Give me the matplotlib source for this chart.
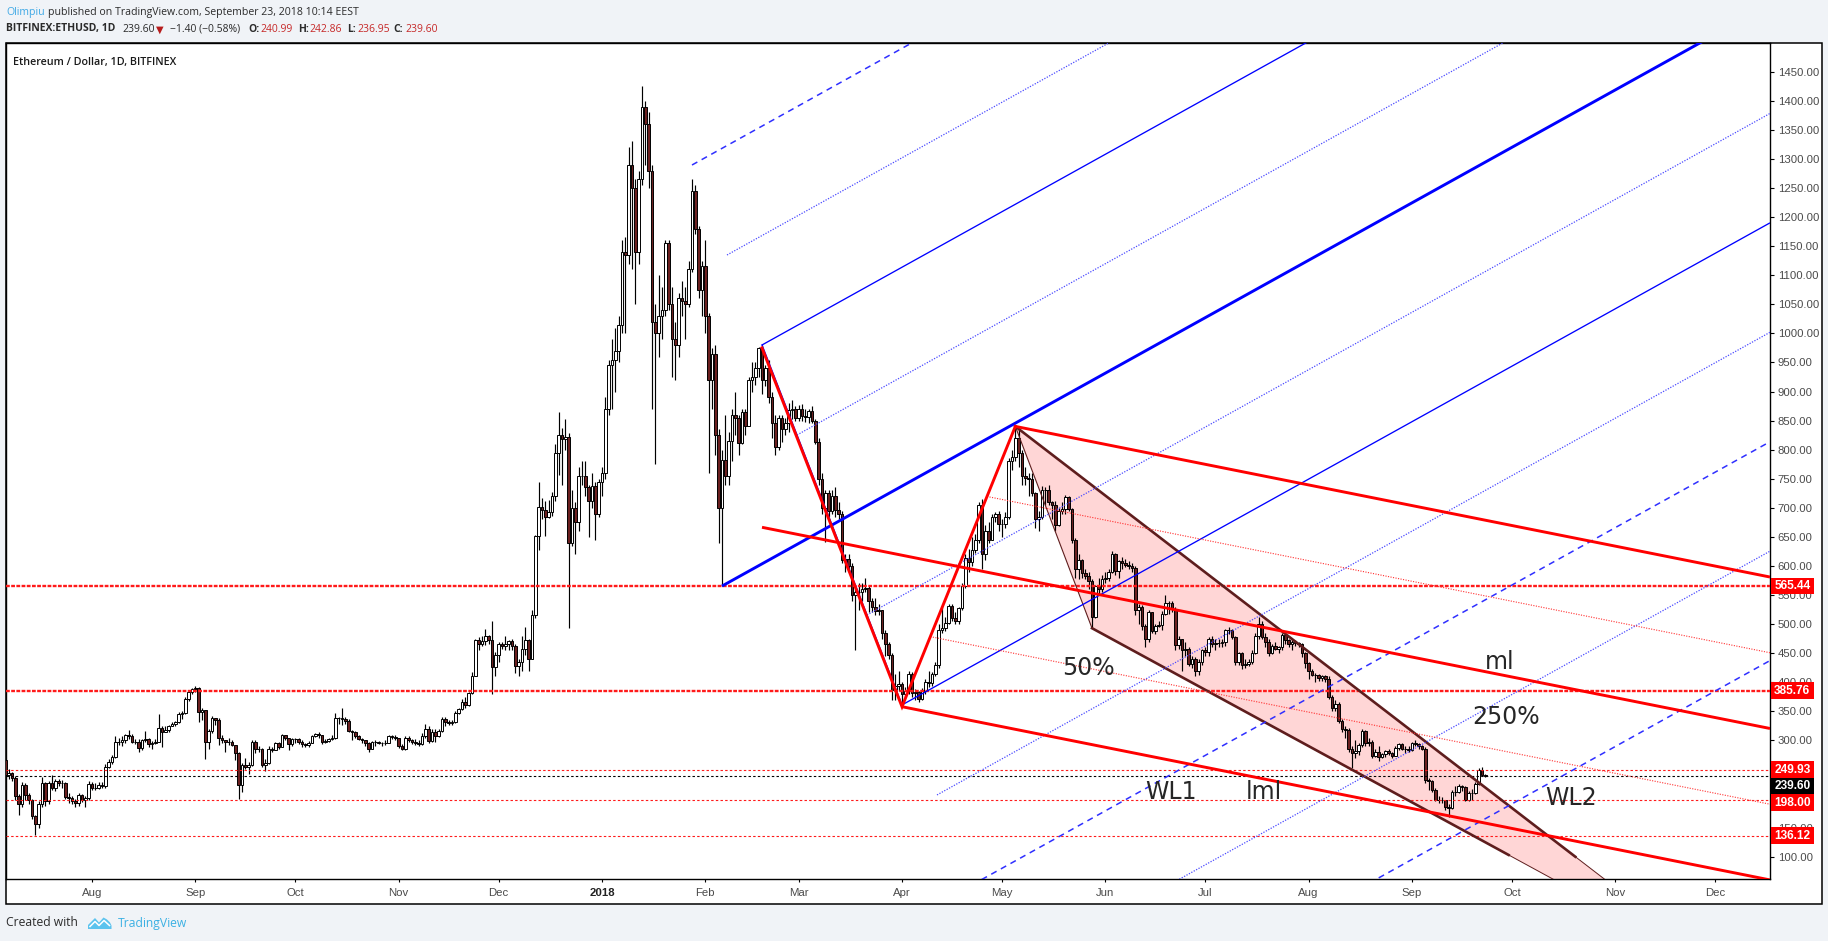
import numpy as np
import pandas as pd
import matplotlib
matplotlib.use("Agg")
import matplotlib.pyplot as plt
import matplotlib.dates as mdates
from matplotlib.patches import Rectangle, Polygon

# ------------------------------------------------------------------ data
first_date = "2017-07-06"
last_date = "2018-09-23"
first_open = 266.0
last_open = 240.99

jul17_close = [240, 244, 236, 205, 190, 224, 207, 198, 170, 156, 190, 226, 195, 226, 218, 230, 227, 226, 203, 201, 196, 192, 206, 198, 201, 225]
jul17_high = [268, 250, 246, 238, 208, 228, 226, 209, 199, 172, 196, 237, 229, 230, 240, 234, 234, 232, 229, 210, 204, 200, 210, 208, 204, 230]
jul17_low = [236, 234, 230, 198, 172, 186, 198, 190, 165, 137, 150, 186, 188, 190, 214, 213, 222, 218, 200, 193, 190, 186, 188, 194, 186, 198]

aug17_close = [219, 218, 224, 221, 255, 263, 272, 297, 297, 300, 309, 307, 297, 297, 287, 300, 302, 293, 296, 298, 322, 314, 318, 325, 328, 331, 345, 347, 371, 383, 388]
aug17_high = [228, 227, 228, 228, 260, 268, 275, 308, 304, 307, 311, 318, 311, 302, 302, 302, 316, 304, 299, 302, 345, 325, 325, 327, 331, 333, 349, 350, 375, 387, 391]
aug17_low = [215, 214, 217, 218, 219, 253, 260, 270, 292, 291, 296, 303, 295, 293, 280, 283, 297, 288, 285, 294, 297, 289, 314, 314, 324, 325, 330, 337, 345, 368, 380]

sep17_close = [391, 349, 352, 298, 316, 338, 335, 304, 300, 297, 298, 292, 278, 223, 258, 255, 257, 298, 286, 286, 258, 262, 286, 284, 296, 289, 309, 304, 294, 302]
sep17_high = [394, 392, 356, 353, 320, 342, 338, 338, 310, 300, 304, 300, 292, 280, 262, 270, 263, 300, 300, 291, 287, 268, 290, 289, 298, 298, 311, 310, 305, 305]
sep17_low = [384, 332, 335, 268, 285, 312, 327, 292, 296, 280, 292, 290, 266, 199, 212, 250, 243, 256, 279, 280, 254, 248, 260, 280, 283, 286, 288, 300, 283, 290]

oct17_close = [303, 298, 293, 292, 296, 308, 311, 309, 297, 299, 303, 305, 339, 338, 336, 334, 317, 314, 308, 303, 300, 295, 286, 297, 297, 296, 296, 295, 307, 306, 304]
oct17_high = [305, 305, 300, 296, 299, 310, 313, 314, 310, 303, 305, 310, 348, 341, 356, 341, 336, 318, 316, 310, 305, 300, 297, 299, 300, 299, 298, 300, 310, 310, 309]
oct17_low = [296, 294, 288, 288, 289, 295, 306, 305, 293, 295, 297, 300, 303, 328, 326, 328, 314, 300, 305, 300, 295, 290, 280, 285, 290, 293, 290, 292, 295, 303, 300]

nov17_close = [290, 286, 305, 300, 297, 296, 294, 308, 320, 299, 315, 308, 316, 336, 332, 330, 332, 347, 354, 366, 361, 381, 411, 472, 466, 471, 480, 472, 427, 447]
nov17_high = [305, 294, 307, 307, 303, 302, 300, 312, 328, 324, 319, 320, 320, 340, 340, 335, 335, 350, 356, 371, 375, 384, 418, 474, 478, 480, 491, 482, 505, 452]
nov17_low = [287, 283, 284, 297, 294, 292, 290, 292, 305, 295, 298, 298, 306, 315, 325, 326, 327, 330, 345, 353, 355, 360, 380, 410, 455, 462, 464, 465, 380, 410]

dec17_close = [466, 463, 466, 471, 462, 428, 434, 457, 473, 440, 515, 651, 702, 696, 685, 693, 720, 794, 826, 819, 821, 640, 700, 675, 755, 755, 735, 712, 738, 690, 745]
dec17_high = [470, 470, 480, 473, 474, 465, 440, 480, 495, 475, 525, 654, 744, 717, 712, 714, 727, 810, 864, 837, 852, 829, 730, 710, 770, 780, 780, 740, 760, 745, 750]
dec17_low = [435, 458, 455, 456, 455, 416, 410, 420, 447, 420, 440, 510, 627, 680, 651, 682, 686, 712, 756, 740, 800, 494, 635, 620, 660, 740, 720, 650, 700, 645, 685]

jan18_close = [760, 870, 945, 955, 970, 1015, 1140, 1135, 1290, 1250, 1140, 1265, 1390, 1360, 1280, 1020, 1000, 1030, 1040, 1155, 1050, 990, 980, 1060, 1055, 1050, 1110, 1245, 1180, 1075, 1115]
jan18_high = [770, 890, 955, 990, 1010, 1030, 1160, 1165, 1320, 1330, 1265, 1280, 1425, 1400, 1380, 1290, 1050, 1100, 1080, 1160, 1160, 1080, 1020, 1070, 1090, 1080, 1125, 1265, 1255, 1185, 1125]
jan18_low = [720, 750, 860, 870, 900, 950, 1000, 1000, 1120, 1110, 1050, 1120, 1255, 1290, 1250, 870, 775, 960, 990, 1030, 1040, 925, 920, 960, 1030, 990, 1045, 1105, 1170, 1060, 1030]

feb18_close = [1030, 920, 965, 825, 700, 782, 755, 815, 860, 855, 812, 865, 840, 920, 925, 940, 975, 920, 940, 890, 845, 805, 855, 835, 845, 868, 870, 855]
feb18_high = [1160, 1035, 975, 980, 835, 800, 860, 830, 870, 900, 860, 870, 870, 925, 950, 950, 976, 980, 945, 955, 900, 860, 860, 860, 855, 880, 885, 875]
feb18_low = [1000, 760, 870, 790, 640, 565, 740, 740, 780, 825, 790, 810, 825, 840, 900, 912, 925, 895, 910, 880, 820, 790, 800, 813, 825, 830, 852, 850]

mar18_close = [870, 858, 857, 866, 850, 814, 750, 700, 725, 695, 720, 697, 690, 610, 612, 600, 550, 555, 555, 560, 562, 540, 530, 522, 525, 485, 465, 447, 387, 393, 397]
mar18_high = [876, 878, 870, 870, 875, 852, 820, 760, 730, 730, 730, 735, 710, 695, 620, 620, 605, 560, 570, 570, 580, 565, 545, 545, 535, 525, 490, 470, 450, 415, 420]
mar18_low = [850, 850, 848, 845, 845, 810, 740, 690, 642, 685, 690, 685, 680, 605, 590, 590, 540, 456, 525, 540, 555, 520, 520, 515, 515, 475, 445, 440, 370, 370, 385]

apr18_close = [380, 385, 415, 381, 383, 371, 385, 400, 398, 415, 430, 490, 493, 502, 532, 510, 505, 527, 565, 614, 607, 628, 645, 705, 620, 660, 645, 685, 690, 672]
apr18_high = [400, 392, 420, 418, 388, 385, 390, 405, 420, 418, 435, 500, 530, 512, 535, 535, 520, 530, 570, 620, 630, 650, 655, 710, 715, 670, 675, 690, 693, 695]
apr18_low = [361, 375, 380, 375, 370, 366, 370, 380, 392, 393, 410, 425, 485, 488, 500, 505, 500, 500, 525, 562, 590, 600, 622, 640, 595, 610, 640, 645, 675, 660]

may18_close = [672, 685, 780, 788, 820, 795, 755, 752, 750, 725, 680, 685, 730, 730, 710, 705, 670, 695, 698, 718, 698, 645, 595, 610, 588, 583, 575, 513, 565, 560, 578]
may18_high = [680, 692, 785, 800, 838, 838, 800, 770, 760, 760, 728, 695, 738, 735, 740, 712, 712, 700, 710, 722, 720, 700, 648, 620, 612, 595, 590, 578, 568, 580, 585]
may18_low = [650, 665, 680, 765, 780, 770, 740, 740, 720, 720, 665, 660, 680, 705, 705, 680, 660, 668, 690, 690, 695, 640, 580, 578, 580, 578, 560, 493, 510, 550, 555]

jun18_close = [580, 590, 620, 592, 608, 605, 602, 600, 597, 525, 530, 497, 475, 520, 488, 497, 498, 518, 537, 536, 526, 464, 474, 455, 458, 431, 440, 420, 435, 455]
jun18_high = [590, 595, 625, 622, 610, 615, 612, 608, 605, 600, 535, 533, 500, 525, 520, 500, 505, 522, 550, 540, 540, 530, 480, 475, 470, 460, 445, 443, 440, 458]
jun18_low = [570, 575, 588, 585, 580, 595, 598, 595, 590, 515, 500, 490, 460, 470, 485, 483, 495, 490, 515, 518, 520, 455, 458, 420, 445, 428, 425, 410, 412, 430]

jul18_close = [452, 475, 465, 468, 467, 470, 490, 490, 478, 435, 450, 430, 432, 435, 450, 480, 500, 478, 470, 450, 462, 458, 460, 482, 472, 465, 470, 467, 465, 450, 433]
jul18_high = [460, 477, 480, 475, 475, 475, 492, 495, 492, 480, 452, 452, 440, 440, 455, 484, 513, 505, 485, 475, 465, 470, 462, 485, 485, 475, 472, 472, 470, 467, 452]
jul18_low = [445, 445, 460, 455, 460, 460, 462, 483, 474, 430, 430, 422, 425, 428, 432, 448, 475, 475, 460, 445, 448, 455, 450, 455, 465, 460, 455, 462, 460, 443, 425]

aug18_close = [420, 413, 412, 407, 410, 405, 375, 355, 363, 333, 320, 318, 286, 278, 282, 292, 316, 295, 298, 274, 280, 271, 276, 281, 279, 274, 287, 294, 286, 285, 283]
aug18_high = [435, 423, 416, 415, 412, 412, 410, 378, 370, 366, 336, 325, 322, 290, 300, 296, 320, 318, 304, 300, 285, 290, 279, 284, 285, 280, 290, 296, 296, 291, 290]
aug18_low = [405, 410, 400, 403, 402, 400, 372, 350, 350, 330, 315, 305, 280, 252, 270, 275, 288, 290, 290, 270, 272, 265, 270, 272, 275, 270, 274, 284, 283, 278, 280]

sep18_close = [295, 294, 290, 286, 232, 230, 215, 198, 197, 197, 185, 184, 211, 212, 222, 220, 198, 209, 210, 225, 249, 241, 239.60]
sep18_high = [298, 300, 295, 292, 288, 235, 232, 218, 205, 202, 198, 190, 215, 222, 225, 224, 222, 213, 216, 228, 253, 254, 242.86]
sep18_low = [282, 290, 285, 283, 226, 215, 212, 195, 192, 192, 180, 168, 182, 205, 210, 213, 196, 196, 198, 208, 224, 238, 236.95]

# horizontal levels
level_thick = [565.44, 385.76]
level_thin = [249.93, 198.00, 136.12]
last_price = 239.60

# Andrews pitchfork (blue): pivots
blue_fork_dates = ["2018-02-06", "2018-02-18", "2018-04-01"]
blue_fork_prices = [565.44, 980.0, 361.0]
blue_upper_levels = [0.5, 1.0, 1.5, 2.0]
blue_lower_levels = [0.5, 1.0, 1.5, 2.0, 2.5, 3.0]

# Schiff pitchfork (red): pivots
red_fork_dates = ["2018-02-18", "2018-04-01", "2018-05-05"]
red_fork_prices = [975.0, 358.0, 840.0]

# brown channel
chan_start_dates = ["2018-05-05", "2018-05-28"]
chan_start_prices = [840.0, 493.0]
chan_end_dates = ["2018-10-20", "2018-09-30"]
chan_end_prices = [100.0, 103.0]

# text annotations (label, date, price at baseline)
notes = [("50%", "2018-05-19", 412.0), ("ml", "2018-09-23", 423.0),
         ("250%", "2018-09-19", 328.0), ("WL1", "2018-06-13", 200.0),
         ("lml", "2018-07-13", 200.0), ("WL2", "2018-10-11", 189.0)]

month_labels = ["Aug", "Sep", "Oct", "Nov", "Dec", "2018", "Feb", "Mar", "Apr",
                "May", "Jun", "Jul", "Aug", "Sep", "Oct", "Nov", "Dec"]
price_ticks = list(range(100, 1451, 50))
hidden_price_ticks = [200, 250]   # fully covered by the price-label boxes

# ------------------------------------------------------------------ arrays
closes = np.array(jul17_close + aug17_close + sep17_close + oct17_close + nov17_close +
                  dec17_close + jan18_close + feb18_close + mar18_close + apr18_close +
                  may18_close + jun18_close + jul18_close + aug18_close + sep18_close, float)
highs = np.array(jul17_high + aug17_high + sep17_high + oct17_high + nov17_high +
                 dec17_high + jan18_high + feb18_high + mar18_high + apr18_high +
                 may18_high + jun18_high + jul18_high + aug18_high + sep18_high, float)
lows = np.array(jul17_low + aug17_low + sep17_low + oct17_low + nov17_low +
                dec17_low + jan18_low + feb18_low + mar18_low + apr18_low +
                may18_low + jun18_low + jul18_low + aug18_low + sep18_low, float)
dates = pd.date_range(first_date, last_date, freq="D")
assert len(dates) == len(closes) == len(highs) == len(lows)
opens = np.concatenate([[first_open], closes[:-1]])
opens[-1] = last_open
highs = np.maximum(highs, np.maximum(opens, closes))
lows = np.minimum(lows, np.minimum(opens, closes))
xd = mdates.date2num(dates)

def dnum(s):
    return mdates.date2num(pd.Timestamp(s))

# ------------------------------------------------------------------ layout
W, H = 1828, 941
BG = "#f0f3f7"
fig = plt.figure(figsize=(W / 100, H / 100), dpi=100, facecolor=BG)

def fx(px):
    return px / W

def fy(py):
    return 1 - py / H

BOX_L, BOX_R, BOX_T, BOX_B = 6, 1822, 43, 904
AX_R, AX_B = 1770, 879
fig.patches.append(Rectangle((fx(BOX_L), fy(BOX_B)), fx(BOX_R) - fx(BOX_L), fy(BOX_T) - fy(BOX_B),
                             transform=fig.transFigure, facecolor="white",
                             edgecolor="black", linewidth=1.1, zorder=-5))

ax = fig.add_axes([fx(BOX_L), fy(AX_B), fx(AX_R) - fx(BOX_L), fy(BOX_T) - fy(AX_B)])
ax.set_facecolor("white")
XMIN = dnum("2017-07-06") + 0.2
XMAX = dnum("2018-12-17") + 0.4
YMIN, YMAX = 61.7, 1499.3
ax.set_xlim(XMIN, XMAX)
ax.set_ylim(YMIN, YMAX)

# ------------------------------------------------------------------ candles
up = closes >= opens
bot = np.minimum(opens, closes)
hgt = np.abs(closes - opens)
ax.vlines(xd, lows, highs, color="black", linewidth=0.85, zorder=3)
ax.bar(xd[up], hgt[up], bottom=bot[up], width=0.72, color="white",
       edgecolor="black", linewidth=0.7, zorder=4)
ax.bar(xd[~up], hgt[~up], bottom=bot[~up], width=0.72, color="#6b2020",
       edgecolor="black", linewidth=0.7, zorder=4)

# ------------------------------------------------------------------ horizontal levels
for lv in level_thick:
    ax.axhline(lv, color="#ff1a1a", linewidth=1.7, linestyle=(0, (1.6, 0.6)), zorder=5)
for lv in level_thin:
    ax.axhline(lv, color="#ff1a1a", linewidth=0.8, linestyle=(0, (2.2, 2.0)), zorder=5)
ax.axhline(last_price, color="black", linewidth=0.8, linestyle=(0, (2.2, 2.0)), zorder=5)

def ray(x0, y0, slope, x1=XMAX, **kw):
    ax.plot([x0, x1], [y0, y0 + slope * (x1 - x0)], solid_capstyle="butt", **kw)

# ------------------------------------------------------------------ brown channel
cax = [dnum(d) for d in chan_start_dates]
cex = [dnum(d) for d in chan_end_dates]
su = (chan_end_prices[0] - chan_start_prices[0]) / (cex[0] - cax[0])
sl = (chan_end_prices[1] - chan_start_prices[1]) / (cex[1] - cax[1])
x_far = dnum("2018-11-20")
uf = chan_start_prices[0] + su * (x_far - cax[0])
lf = chan_start_prices[1] + sl * (x_far - cax[1])
ax.add_patch(Polygon([(cax[0], chan_start_prices[0]), (x_far, uf), (x_far, lf),
                      (cax[1], chan_start_prices[1])], closed=True,
                     facecolor="#ffd6d6", edgecolor="none", zorder=1))
BROWN = "#5e1d1d"
ax.plot([cax[0], cex[0]], [chan_start_prices[0], chan_end_prices[0]], color=BROWN, lw=1.9, zorder=6)
ax.plot([cax[1], cex[1]], [chan_start_prices[1], chan_end_prices[1]], color=BROWN, lw=1.9, zorder=6)
ax.plot([cex[0], x_far], [chan_end_prices[0], uf], color=BROWN, lw=0.7, zorder=6)
ax.plot([cex[1], x_far], [chan_end_prices[1], lf], color=BROWN, lw=0.7, zorder=6)
ax.plot([cax[0], cax[1]], chan_start_prices, color=BROWN, lw=0.8, zorder=6)

# ------------------------------------------------------------------ blue Andrews pitchfork
BLUE = "#0000ff"
bx = [dnum(d) for d in blue_fork_dates]
by = blue_fork_prices
bmx, bmy = (bx[1] + bx[2]) / 2, (by[1] + by[2]) / 2
bslope = (bmy - by[0]) / (bmx - bx[0])
ray(bx[0], by[0], bslope, color=BLUE, lw=2.1, zorder=7)
ax.plot([bx[1], bx[2]], [by[1], by[2]], color=BLUE, lw=1.0, zorder=6)

def blue_style(L):
    if L == 1.0:
        return dict(color=BLUE, lw=0.95, linestyle="-")
    if float(L).is_integer():
        return dict(color="#2f2fff", lw=1.1, linestyle=(0, (4.0, 3.2)))
    return dict(color="#4a4aff", lw=0.9, linestyle=(0, (1.0, 1.2)))

for L in blue_upper_levels:
    ray(bmx + L * (bx[1] - bmx), bmy + L * (by[1] - bmy), bslope, zorder=6, **blue_style(L))
for L in blue_lower_levels:
    ray(bmx + L * (bx[2] - bmx), bmy + L * (by[2] - bmy), bslope, zorder=6, **blue_style(L))

# ------------------------------------------------------------------ red Schiff pitchfork
RED = "#ff0000"
rx = [dnum(d) for d in red_fork_dates]
ry = red_fork_prices
rsx, rsy = rx[0], (ry[0] + ry[1]) / 2
rmx, rmy = (rx[1] + rx[2]) / 2, (ry[1] + ry[2]) / 2
rslope = (rmy - rsy) / (rmx - rsx)
ray(rsx, rsy, rslope, color=RED, lw=2.1, zorder=8)
ray(rx[2], ry[2], rslope, color=RED, lw=2.1, zorder=8)
ray(rx[1], ry[1], rslope, color=RED, lw=2.1, zorder=8)
for px_, py_ in [(rx[2], ry[2]), (rx[1], ry[1])]:
    ray(rmx + 0.5 * (px_ - rmx), rmy + 0.5 * (py_ - rmy), rslope,
        color="#ff3030", lw=0.8, linestyle=(0, (1.0, 1.3)), zorder=7)
ax.plot(rx, ry, color=RED, lw=2.1, zorder=8, solid_joinstyle="miter")

# ------------------------------------------------------------------ annotations
for s, d, p in notes:
    ax.text(dnum(d), p, s, fontsize=17, color="#262626", family="DejaVu Sans",
            ha="left", va="baseline", zorder=9)

# ------------------------------------------------------------------ axes styling
for sp in ax.spines.values():
    sp.set_color("black")
    sp.set_linewidth(1.0)
ax.yaxis.tick_right()
ax.set_yticks(price_ticks)
ax.set_yticklabels(["" if v in hidden_price_ticks else f"{v:.2f}" for v in price_ticks])
month_starts = pd.date_range("2017-08-01", "2018-12-01", freq="MS")
ax.set_xticks(mdates.date2num(month_starts))
ax.set_xticklabels(month_labels)
ax.tick_params(axis="y", direction="out", length=3.2, width=0.8, pad=2.3,
               labelsize=8.2, labelcolor="#4a4a4a", color="black")
ax.tick_params(axis="x", direction="out", length=2.5, width=0.8, pad=4.0,
               labelsize=8.2, labelcolor="#4a4a4a", color="black")
for lab in ax.get_yticklabels() + ax.get_xticklabels():
    lab.set_family("Liberation Sans")
for lab in ax.get_xticklabels():
    if lab.get_text() == "2018":
        lab.set_fontweight("bold")
        lab.set_color("#222222")

# ------------------------------------------------------------------ price labels
pax = fig.add_axes([fx(AX_R), fy(AX_B), fx(BOX_R) - fx(AX_R), fy(BOX_T) - fy(AX_B)])
pax.set_xlim(0, BOX_R - AX_R)
pax.set_ylim(YMIN, YMAX)
pax.axis("off")
pax.set_zorder(5)
px_per_unit = (AX_B - BOX_T) / (YMAX - YMIN)
box_h = 16.6 / px_per_unit
box_levels = [(565.44, "#ff0000"), (385.76, "#ff0000"), (249.93, "#ff0000"),
              (last_price, "#000000"), (198.00, "#ff0000"), (136.12, "#ff0000")]
prev = None
for lv, col in sorted(box_levels, key=lambda t: -t[0]):
    pos = lv if prev is None else min(lv, prev - box_h)
    prev = pos
    pax.add_patch(Rectangle((0.6, pos - box_h / 2), 43.5, box_h, facecolor=col,
                            edgecolor="none", clip_on=False))
    pax.text(22.3, pos, f"{lv:.2f}", color="white", fontsize=8.6, fontweight="bold",
             family="Liberation Sans", ha="center", va="center", clip_on=False)

# ------------------------------------------------------------------ header / footer text
renderer = fig.canvas.get_renderer()
HFONT = ["Open Sans", "DejaVu Sans"]

def put(x, y, s, size=9, **kw):
    kw.setdefault("family", HFONT)
    return fig.text(fx(x), fy(y), s, fontsize=size, ha="left", va="center", **kw)

def fitted_size(s, target, size=9, **kw):
    t = put(0, 0, s, size, **kw)
    w = t.get_window_extent(renderer).width
    t.remove()
    return size * target / w

DARK = "#2b2b2b"
VAL_RED = "#c62828"
s1 = fitted_size("published on TradingView.com, September 23, 2018 10:14 EEST", 310)
put(6, 12, "Olimpiu", s1, color="#3fa9e6")
put(48, 12, "published on TradingView.com, September 23, 2018 10:14 EEST", s1, color=DARK)

s2 = fitted_size("BITFINEX:ETHUSD, 1D", 110, fontweight="bold")
runs = [(6, "BITFINEX:ETHUSD, 1D", "bold", DARK), (122, "239.60", "normal", DARK),
        (170, "\u22121.40 (\u22120.58%)", "normal", DARK),
        (248, "O:", "bold", DARK), (260, "240.99", "normal", VAL_RED),
        (298, "H:", "bold", DARK), (309, "242.86", "normal", VAL_RED),
        (347, "L:", "bold", DARK), (357, "236.95", "normal", VAL_RED),
        (393, "C:", "bold", DARK), (405, "239.60", "normal", VAL_RED)]
for x, s, wt, col in runs:
    put(x, 29, s, s2, fontweight=wt, color=col)
put(156, 29.5, "\u25bc", s2 * 0.95, color="#b71c1c", family=["DejaVu Sans"])

s3 = fitted_size("Ethereum / Dollar, 1D, BITFINEX", 163, fontweight="semibold")
put(13, 62, "Ethereum / Dollar, 1D, BITFINEX", s3, fontweight="semibold", color="#1a1a1a")

s4 = fitted_size("Created with", 73)
put(6, 923, "Created with", s4, color=DARK)
put(118, 923, "TradingView", s4, color="#3bb0e3")

logo = [(88, 929), (88, 925), (92, 921), (95, 918), (99, 922.5), (103.5, 917.5),
        (107, 919.5), (110, 922.5), (111.5, 925.5), (111.5, 929)]
fig.patches.append(Polygon([(fx(a), fy(b)) for a, b in logo], closed=True,
                           transform=fig.transFigure, facecolor="#5cc3ee",
                           edgecolor="none"))
zig = [(90, 926.5), (95, 921.5), (99, 925.5), (104, 920.5), (109.5, 925.5)]
fig.lines.append(plt.Line2D([fx(a) for a, b in zig], [fy(b) for a, b in zig],
                            transform=fig.transFigure, color="white", lw=1.1))

fig.savefig("out.png", dpi=100, facecolor=BG)
